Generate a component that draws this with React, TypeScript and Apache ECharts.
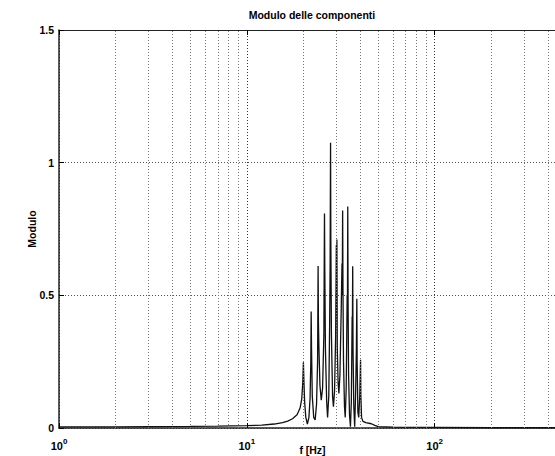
import React, { useEffect, useRef } from "react";
import * as echarts from "echarts";

// Frequency (Hz) and modulus
const freqHz = [
  1, 2, 3, 5, 7, 10, 12, 14, 15.5, 16.5, 17.5, 18.5, 19.2, 19.6, 19.85,
  20.0, 20.1, 20.3, 20.6, 21.0, 21.4, 21.7, 21.9, 22.0, 22.1, 22.3, 22.7,
  23.1, 23.5, 23.8, 23.95, 24.05, 24.2, 24.5, 24.9, 25.3, 25.7, 25.9, 26.0,
  26.2, 26.6, 26.9, 27.3, 27.6, 27.75, 27.9, 28.0, 28.2, 28.6, 28.9, 29.3,
  29.7, 29.95, 30.05, 30.15, 30.3, 30.6, 30.9, 31.3, 31.8, 32.1, 32.2, 32.35,
  32.5, 32.7, 33.1, 33.4, 33.8, 34.2, 34.3, 34.45, 34.6, 34.8, 35.2, 35.6,
  36.0, 36.35, 36.45, 36.6, 36.75, 37.1, 37.5, 37.9, 38.3, 38.5, 38.65, 39.0,
  39.4, 39.9, 40.3, 40.45, 40.8, 41.5, 43, 46, 48, 50, 60, 100, 200, 500,
];
const modulo = [
  0.004, 0.004, 0.005, 0.006, 0.007, 0.009, 0.011, 0.015, 0.02, 0.026, 0.035, 0.05, 0.075, 0.11, 0.17,
  0.248, 0.19, 0.1, 0.04, 0.015, 0.04, 0.11, 0.25, 0.439, 0.3, 0.12, 0.04,
  0.03, 0.09, 0.25, 0.611, 0.395, 0.3, 0.16, 0.105, 0.15, 0.35, 0.808, 0.6,
  0.3, 0.1, 0.04, 0.12, 0.4, 0.62, 1.075, 0.7, 0.35, 0.12, 0.08, 0.14,
  0.35, 0.69, 0.5, 0.71, 0.3, 0.17, 0.13, 0.2, 0.45, 0.62, 0.5, 0.82,
  0.5, 0.25, 0.08, 0.04, 0.15, 0.5, 0.4, 0.835, 0.45, 0.2, 0.05, 0.005,
  0.1, 0.42, 0.35, 0.61, 0.3, 0.08, 0.005, 0.12, 0.3, 0.487, 0.25, 0.06,
  0.04, 0.12, 0.257, 0.12, 0.04, 0.025, 0.02, 0.016, 0.01, 0.005, 0.003, 0.002, 0.001, 0.001,
];
const minorGridHz = [2, 3, 4, 5, 6, 7, 8, 9, 20, 30, 40, 50, 60, 70, 80, 90, 200, 300, 400];
const titleText = "Modulo delle componenti";
const xName = "f [Hz]";
const yName = "Modulo";

export default function App() {
  const ref = useRef<HTMLDivElement>(null);
  useEffect(() => {
    if (!ref.current) return;
    const chart = echarts.init(ref.current, null, { renderer: "svg" });
    const font = "'Liberation Sans', Arial, Helvetica, sans-serif";
    const lbl = { color: "#000", fontFamily: font, fontWeight: "bold" as const };
    chart.setOption({
      animation: false,
      backgroundColor: "#fff",
      textStyle: { fontFamily: font },
      grid: { left: 59, top: 30, right: -11, bottom: 28, outerBoundsMode: "none" },
      graphic: [
        {
          type: "text",
          x: 312,
          y: 9,
          style: {
            text: titleText,
            fontSize: 10.5,
            fontWeight: "bold",
            fontFamily: font,
            fill: "#000",
            align: "center",
            verticalAlign: "top",
          },
        },
      ],
      xAxis: [
        {
          type: "log",
          logBase: 10,
          min: 1,
          max: 500,
          name: xName,
          nameLocation: "middle",
          nameGap: 16,
          nameMoveOverlap: false,
          nameTextStyle: { ...lbl, fontSize: 10.5 },
          axisLine: { onZero: false, lineStyle: { color: "#222", width: 1.5 } },
          axisTick: { inside: true, length: 5, lineStyle: { color: "#000" } },
          axisLabel: {
            margin: 9,
            formatter: (v: number) => {
              const e = Math.log10(v);
              const r = Math.round(e);
              return Math.abs(e - r) < 1e-6 ? `{b|10}{s|${r}}` : "";
            },
            rich: {
              b: { ...lbl, fontSize: 11, lineHeight: 14, verticalAlign: "bottom" },
              s: { ...lbl, fontSize: 8, lineHeight: 8, verticalAlign: "top" },
            },
          },
          splitLine: { show: true, lineStyle: { color: "#333", type: [1, 2], width: 1 } },
        },
        {
          type: "log",
          logBase: 10,
          min: 1,
          max: 500,
          position: "top",
          axisLine: { onZero: false, lineStyle: { color: "#222", width: 1.2 } },
          axisTick: { inside: true, length: 5, lineStyle: { color: "#000" } },
          axisLabel: { show: false },
          splitLine: { show: false },
        },
      ],
      yAxis: {
        type: "value",
        min: 0,
        max: 1.5,
        interval: 0.5,
        name: yName,
        nameLocation: "middle",
        nameRotate: 90,
        nameGap: 22,
        nameMoveOverlap: false,
        nameTextStyle: { ...lbl, fontSize: 10.5 },
        axisLine: { show: true, lineStyle: { color: "#222", width: 1.5 } },
        axisTick: { show: true, inside: true, length: 5, lineStyle: { color: "#000" } },
        axisLabel: { ...lbl, fontSize: 10.5, margin: 5 },
        splitLine: { show: true, lineStyle: { color: "#555", type: [1, 2], width: 1 } },
      },
      series: [
        {
          type: "line",
          xAxisIndex: 0,
          data: freqHz.map((f, i) => [f, modulo[i]]),
          symbol: "none",
          showSymbol: false,
          lineStyle: { color: "#111", width: 1.3 },
          markLine: {
            silent: true,
            symbol: ["none", "none"],
            label: { show: false },
            emphasis: { disabled: true },
            lineStyle: { color: "#777", type: [1, 2], width: 1 },
            data: minorGridHz.map((v) => ({ xAxis: v })),
          },
        },
      ],
    });
    return () => chart.dispose();
  }, []);
  return (
    <div
      ref={ref}
      style={{ position: "fixed", left: 0, top: 0, width: 555, height: 456, background: "#fff" }}
    />
  );
}
